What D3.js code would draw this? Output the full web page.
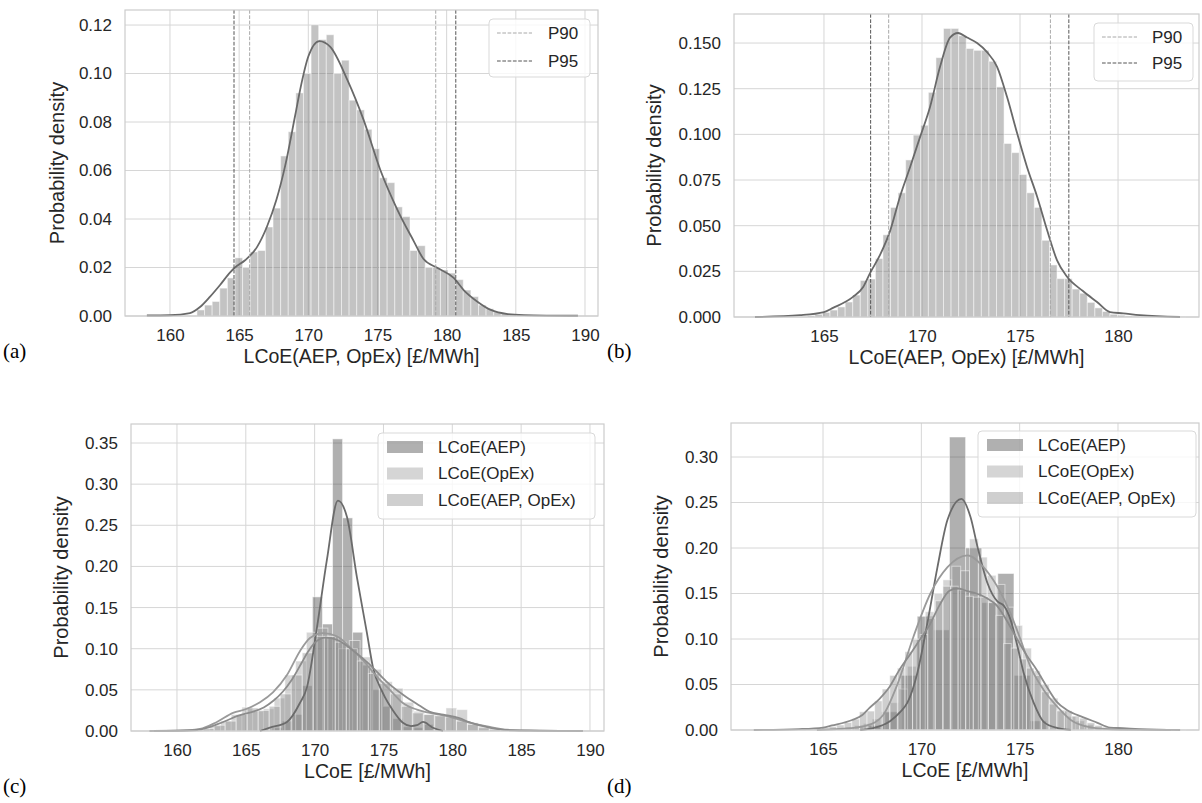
<!DOCTYPE html>
<html>
<head>
<meta charset="utf-8">
<script src="https://cdn.jsdelivr.net/npm/d3@7"></script>
<style>
  body { margin: 0; background: #fff; }
  svg { display: block; font-family: "Liberation Sans", Arial, sans-serif; }
</style>
</head>
<body>
<div id="chart"></div>
<script>
// ---- tick values ----
var xTicksWide = [160, 165, 170, 175, 180, 185, 190];
var xTicksNarrow = [165, 170, 175, 180];
var yTicksA = [0, 0.02, 0.04, 0.06, 0.08, 0.10, 0.12];
var yTicksB = [0, 0.025, 0.05, 0.075, 0.10, 0.125, 0.15];
var yTicksC = [0, 0.05, 0.10, 0.15, 0.20, 0.25, 0.30, 0.35];
var yTicksD = [0, 0.05, 0.10, 0.15, 0.20, 0.25, 0.30];

// ---- LCoE(AEP, OpEx), wide sample (panels a and c) ----
var histA_start = 161.95, histA_width = 0.55;
var histA_density = [0.0025, 0.0045, 0.006, 0.0115, 0.0157, 0.024, 0.020, 0.0264, 0.027, 0.0367,
  0.0445, 0.066, 0.076, 0.092, 0.100, 0.120, 0.114, 0.116, 0.100, 0.1055,
  0.089, 0.085, 0.077, 0.069, 0.057, 0.055, 0.045, 0.041, 0.027, 0.029,
  0.020, 0.020, 0.019, 0.0177, 0.015, 0.0107, 0.008, 0.0045, 0.003, 0.0017,
  0.001, 0.0006, 0.0005, 0.0004, 0.0004, 0.0003, 0.0002, 0.0002, 0.0002, 0.0001];
var kdeA = [[158.33, 0.0002], [160.0, 0.0003], [161.45, 0.0012], [162.17, 0.0037], [162.9, 0.008],
  [163.62, 0.0128], [164.35, 0.018], [164.7, 0.020], [165.43, 0.023], [166.3, 0.0285],
  [167.0, 0.0367], [167.7, 0.048], [168.33, 0.062], [169.06, 0.083], [169.45, 0.0944],
  [170.0, 0.107], [170.8, 0.1134], [171.59, 0.111], [172.83, 0.0973], [173.99, 0.081],
  [175.22, 0.060], [176.45, 0.0437], [177.61, 0.031], [178.33, 0.0235], [179.35, 0.0198],
  [180.51, 0.0157], [181.23, 0.0107], [182.25, 0.0058], [183.19, 0.0025], [184.42, 0.0008],
  [185.58, 0.0004], [189.49, 0.0001]];
var p90A = [165.76, 179.21];
var p95A = [164.63, 180.66];

// ---- LCoE(AEP, OpEx), narrow sample (panels b and d) ----
var histB_start = 164.15, histB_width = 0.386;
var histB_density = [0.0008, 0.0015, 0.0025, 0.0038, 0.0055, 0.0082, 0.012, 0.020, 0.0208, 0.032,
  0.045, 0.060, 0.068, 0.086, 0.0996, 0.105, 0.123, 0.142, 0.158, 0.158,
  0.154, 0.147, 0.146, 0.146, 0.140, 0.126, 0.095, 0.090, 0.078, 0.068,
  0.060, 0.042, 0.0285, 0.021, 0.021, 0.0153, 0.013, 0.008, 0.005, 0.003,
  0.0015, 0.001, 0.0006, 0.0004, 0.0003, 0.0002, 0.0002, 0.0001, 0.0001, 0.0001];
var kdeB = [[161.48, 0], [163.78, 0.001], [165.0, 0.0027], [165.46, 0.005], [166.48, 0.011],
  [167.0, 0.0164], [167.35, 0.024], [167.86, 0.034], [168.37, 0.047], [168.88, 0.066],
  [169.39, 0.082], [169.9, 0.0985], [170.41, 0.115], [170.92, 0.137], [171.43, 0.153],
  [171.84, 0.1555], [172.3, 0.153], [172.81, 0.150], [173.32, 0.145], [173.83, 0.137],
  [174.34, 0.1204], [174.85, 0.1007], [175.36, 0.082], [175.87, 0.066], [176.38, 0.0476],
  [176.89, 0.031], [177.4, 0.022], [178.21, 0.0142], [178.93, 0.0082], [179.59, 0.0027],
  [180.26, 0.002], [181.12, 0.001], [183.16, 0]];
var p90B = [168.30, 176.55];
var p95B = [167.38, 177.49];

// ---- panel c: LCoE(AEP) and LCoE(OpEx) ----
var histC_aep_start = 166.92, histC_aep_width = 0.73;
var histC_aep = [0.004, 0.012, 0.02, 0.055, 0.163, 0.13, 0.355, 0.259, 0.12, 0.08,
  0.05, 0.03, 0.015, 0.005, 0.004, 0.008];
var kdeC_aep = [[166.03, 0.0], [166.75, 0.004], [167.99, 0.011], [168.93, 0.034], [169.44, 0.053],
  [170.17, 0.126], [170.89, 0.208], [171.69, 0.28], [172.35, 0.26], [173.07, 0.187],
  [173.8, 0.119], [174.23, 0.078], [174.96, 0.046], [175.69, 0.025], [176.41, 0.010],
  [177.0, 0.006], [177.43, 0.007], [177.87, 0.011], [178.59, 0.004], [179.32, 0]];
var histC_opex_start = 161.6, histC_opex_width = 0.78;
var histC_opex = [0.002, 0.006, 0.012, 0.02, 0.029, 0.024, 0.027, 0.04, 0.068, 0.085,
  0.12, 0.125, 0.115, 0.10, 0.11, 0.09, 0.075, 0.06, 0.052, 0.035,
  0.024, 0.02, 0.018, 0.028, 0.026, 0.01, 0.006, 0.004, 0.002, 0.001, 0.0005];
var kdeC_opex = [[158.0, 0], [160.0, 0.0004], [161.67, 0.0025], [162.9, 0.011], [164.07, 0.022],
  [165.08, 0.027], [166.03, 0.035], [166.97, 0.047], [167.99, 0.068], [168.93, 0.097],
  [169.66, 0.113], [170.6, 0.119], [171.62, 0.115], [172.56, 0.102], [173.51, 0.086],
  [174.52, 0.066], [175.47, 0.05], [176.41, 0.034], [177.43, 0.026], [178.37, 0.022],
  [179.61, 0.018], [181.06, 0.011], [182.73, 0.005], [183.97, 0.0015], [189.48, 0]];
var histC_comb_start = 161.9, histC_comb_width = 0.8;
var histC_comb = [0.003, 0.007, 0.012, 0.02, 0.028, 0.025, 0.03, 0.045, 0.068, 0.095,
  0.115, 0.115, 0.108, 0.1, 0.085, 0.07, 0.058, 0.045, 0.03, 0.022,
  0.02, 0.019, 0.017, 0.012, 0.008, 0.004, 0.002, 0.001];

// ---- panel d: LCoE(AEP) and LCoE(OpEx) ----
var histD_aep_start = 167.33, histD_aep_width = 0.82;
var histD_aep = [0.005, 0.02, 0.06, 0.125, 0.11, 0.322, 0.2, 0.14, 0.172, 0.06, 0.01];
var kdeD_aep = [[166.89, 0], [167.55, 0.002], [168.42, 0.01], [168.93, 0.02], [169.29, 0.03],
  [169.8, 0.063], [170.31, 0.118], [170.82, 0.179], [171.33, 0.231], [172.04, 0.254],
  [172.5, 0.234], [172.86, 0.201], [173.37, 0.161], [173.88, 0.141], [174.18, 0.137],
  [174.54, 0.121], [174.9, 0.091], [175.2, 0.063], [175.71, 0.030], [176.22, 0.009],
  [176.94, 0.002], [177.6, 0]];
var histD_opex_start = 164.8, histD_opex_width = 0.45;
var histD_opex = [0.001, 0.002, 0.002, 0.003, 0.005, 0.007, 0.012, 0.02, 0.03, 0.045,
  0.07, 0.1, 0.13, 0.15, 0.165, 0.18, 0.175, 0.21, 0.19, 0.17,
  0.16, 0.135, 0.115, 0.09, 0.065, 0.05, 0.035, 0.022, 0.015, 0.01,
  0.006, 0.003, 0.002, 0.001];
var kdeD_opex = [[164.69, 0], [166.38, 0.002], [167.24, 0.005], [168.06, 0.0165], [168.78, 0.05],
  [169.59, 0.102], [170.46, 0.150], [171.33, 0.179], [172.35, 0.192], [173.16, 0.179],
  [173.88, 0.157], [174.54, 0.128], [175.05, 0.099], [175.56, 0.069], [176.22, 0.044],
  [176.94, 0.025], [177.6, 0.011], [178.62, 0.003], [180.05, 0.0005], [182.7, 0]];

var seriesNames = ["LCoE(AEP)", "LCoE(OpEx)", "LCoE(AEP, OpEx)"];

// ---- drawing ----
var svg = d3.select("#chart").append("svg")
    .attr("width", 1202)
    .attr("height", 803);

var gridColor = "#d6d6d6";
var textColor = "#262626";

function histBars(start, width, dens) {
    return dens.map(function (d, i) {
        return { x0: start + i * width, x1: start + (i + 1) * width, y: d };
    });
}

function drawPanel(p) {
    var x = d3.scaleLinear().domain(p.xDomain).range([p.left, p.right]);
    var y = d3.scaleLinear().domain([0, p.yMax]).range([p.bottom, p.top]);
    var g = svg.append("g");

    // gridlines
    g.selectAll(".vgrid").data(p.xTicks).enter().append("line")
        .attr("x1", d => x(d)).attr("x2", d => x(d))
        .attr("y1", p.top).attr("y2", p.bottom)
        .attr("stroke", gridColor).attr("stroke-width", 1);
    g.selectAll(".hgrid").data(p.yTicks).enter().append("line")
        .attr("x1", p.left).attr("x2", p.right)
        .attr("y1", d => y(d)).attr("y2", d => y(d))
        .attr("stroke", gridColor).attr("stroke-width", 1);

    // histograms
    p.hists.forEach(function (h) {
        g.append("g").selectAll("rect").data(histBars(h.start, h.width, h.dens)).enter()
            .append("rect")
            .attr("x", d => x(d.x0))
            .attr("width", d => x(d.x1) - x(d.x0))
            .attr("y", d => y(d.y))
            .attr("height", d => p.bottom - y(d.y))
            .attr("fill", h.color)
            .attr("fill-opacity", 0.4)
            .attr("stroke", "#fff")
            .attr("stroke-opacity", 0.5)
            .attr("stroke-width", 1);
    });

    // KDE lines
    var line = d3.line()
        .x(d => x(d[0]))
        .y(d => y(d[1]))
        .curve(d3.curveMonotoneX);
    p.kdes.forEach(function (k) {
        g.append("path")
            .datum(k.data)
            .attr("fill", "none")
            .attr("stroke", k.color)
            .attr("stroke-width", 1.8)
            .attr("d", line);
    });

    // percentile lines
    (p.vlines || []).forEach(function (v) {
        v.values.forEach(function (val) {
            g.append("line")
                .attr("x1", x(val)).attr("x2", x(val))
                .attr("y1", p.top).attr("y2", p.bottom)
                .attr("stroke", v.color)
                .attr("stroke-width", 1)
                .attr("stroke-dasharray", "3.7,1.6");
        });
    });

    // frame
    g.append("rect")
        .attr("x", p.left).attr("y", p.top)
        .attr("width", p.right - p.left).attr("height", p.bottom - p.top)
        .attr("fill", "none").attr("stroke", "#cccccc").attr("stroke-width", 1.2);

    // axes labels
    var xAxis = g.append("g")
        .attr("transform", `translate(0, ${p.bottom})`)
        .call(d3.axisBottom(x).tickValues(p.xTicks).tickSize(0).tickPadding(13).tickFormat(d3.format("d")));
    var yAxis = g.append("g")
        .attr("transform", `translate(${p.left}, 0)`)
        .call(d3.axisLeft(y).tickValues(p.yTicks).tickSize(0).tickPadding(13).tickFormat(d3.format(p.yFormat)));
    [xAxis, yAxis].forEach(function (a) {
        a.select(".domain").remove();
        a.selectAll("text")
            .attr("fill", textColor)
            .style("font-size", "17px")
            .style("font-family", "'Liberation Sans', Arial, sans-serif");
    });

    g.append("text")
        .attr("x", (p.left + p.right) / 2)
        .attr("y", p.bottom + 47)
        .attr("text-anchor", "middle")
        .attr("fill", textColor)
        .style("font-size", "19.5px")
        .text(p.xLabel);

    g.append("text")
        .attr("transform", `translate(${p.left - p.yLabelOffset}, ${(p.top + p.bottom) / 2}) rotate(-90)`)
        .attr("text-anchor", "middle")
        .attr("fill", textColor)
        .style("font-size", "20px")
        .text("Probability density");

    // panel tag
    g.append("text")
        .attr("x", p.tag.x).attr("y", p.tag.y)
        .attr("fill", "#000")
        .style("font-family", "'Liberation Serif', 'Times New Roman', serif")
        .style("font-size", "21px")
        .text(p.tag.text);

    // legend
    var lg = p.legend;
    var leg = g.append("g");
    leg.append("rect")
        .attr("x", lg.x).attr("y", lg.y)
        .attr("width", lg.w).attr("height", lg.h)
        .attr("rx", 4)
        .attr("fill", "#fff").attr("fill-opacity", 0.8)
        .attr("stroke", "#d9d9d9").attr("stroke-width", 1);
    lg.items.forEach(function (it, i) {
        var cy = lg.y + lg.first + i * lg.step;
        if (it.type === "line") {
            leg.append("line")
                .attr("x1", lg.x + 8).attr("x2", lg.x + 43)
                .attr("y1", cy).attr("y2", cy)
                .attr("stroke", it.color).attr("stroke-width", 1)
                .attr("stroke-dasharray", "3.7,1.6");
        } else {
            leg.append("rect")
                .attr("x", lg.x + 9).attr("y", cy - 6)
                .attr("width", 36).attr("height", 12)
                .attr("fill", it.color).attr("fill-opacity", 0.4);
        }
        leg.append("text")
            .attr("x", lg.x + lg.textOffset).attr("y", cy)
            .attr("dominant-baseline", "central")
            .attr("fill", textColor)
            .style("font-size", "17px")
            .text(it.label);
    });
}

var colSingle = "#696969";
var colAep = "#3a3a3a", colOpex = "#959595", colComb = "#888888";
var lineAep = "#6b6b6b", lineOpex = "#9a9a9a", lineComb = "#8c8c8c";
var colP90 = "#a8a8a8", colP95 = "#555555";

// (a)
drawPanel({
    left: 125, right: 598, top: 10, bottom: 316,
    xDomain: [156.75, 190.94], yMax: 0.1262,
    xTicks: xTicksWide, yTicks: yTicksA, yFormat: ".2f",
    hists: [{ start: histA_start, width: histA_width, dens: histA_density, color: colSingle }],
    kdes: [{ data: kdeA, color: colSingle }],
    vlines: [{ values: p90A, color: colP90 }, { values: p95A, color: colP95 }],
    xLabel: "LCoE(AEP, OpEx) [£/MWh]", yLabelOffset: 61,
    tag: { text: "(a)", x: 3, y: 358 },
    legend: { x: 489, y: 19, w: 101, h: 58, first: 14, step: 28, textOffset: 59,
        items: [{ type: "line", color: colP90, label: "P90" }, { type: "line", color: colP95, label: "P95" }] }
});

// (b)
drawPanel({
    left: 734, right: 1199, top: 14, bottom: 317,
    xDomain: [160.41, 184.13], yMax: 0.1659,
    xTicks: xTicksNarrow, yTicks: yTicksB, yFormat: ".3f",
    hists: [{ start: histB_start, width: histB_width, dens: histB_density, color: colSingle }],
    kdes: [{ data: kdeB, color: colSingle }],
    vlines: [{ values: p90B, color: colP90 }, { values: p95B, color: colP95 }],
    xLabel: "LCoE(AEP, OpEx) [£/MWh]", yLabelOffset: 73,
    tag: { text: "(b)", x: 607, y: 358 },
    legend: { x: 1094, y: 23, w: 99, h: 58, first: 14, step: 26, textOffset: 58,
        items: [{ type: "line", color: colP90, label: "P90" }, { type: "line", color: colP95, label: "P95" }] }
});

// (c)
drawPanel({
    left: 131, right: 604, top: 424, bottom: 731,
    xDomain: [156.66, 191.02], yMax: 0.3731,
    xTicks: xTicksWide, yTicks: yTicksC, yFormat: ".2f",
    hists: [
        { start: histC_aep_start, width: histC_aep_width, dens: histC_aep, color: colAep },
        { start: histC_opex_start, width: histC_opex_width, dens: histC_opex, color: colOpex },
        { start: histC_comb_start, width: histC_comb_width, dens: histC_comb, color: colComb }
    ],
    kdes: [
        { data: kdeC_aep, color: lineAep },
        { data: kdeC_opex, color: lineOpex },
        { data: kdeA, color: lineComb }
    ],
    xLabel: "LCoE [£/MWh]", yLabelOffset: 63.5,
    tag: { text: "(c)", x: 3, y: 793 },
    legend: { x: 378, y: 433, w: 217, h: 86, first: 14, step: 26.5, textOffset: 60,
        items: [{ type: "patch", color: colAep, label: seriesNames[0] },
                { type: "patch", color: colOpex, label: seriesNames[1] },
                { type: "patch", color: colComb, label: seriesNames[2] }] }
});

// (d)
drawPanel({
    left: 731, right: 1199, top: 423, bottom: 730,
    xDomain: [160.32, 184.12], yMax: 0.3374,
    xTicks: xTicksNarrow, yTicks: yTicksD, yFormat: ".2f",
    hists: [
        { start: histD_aep_start, width: histD_aep_width, dens: histD_aep, color: colAep },
        { start: histD_opex_start, width: histD_opex_width, dens: histD_opex, color: colOpex },
        { start: histB_start, width: histB_width, dens: histB_density, color: colComb }
    ],
    kdes: [
        { data: kdeD_aep, color: lineAep },
        { data: kdeD_opex, color: lineOpex },
        { data: kdeB, color: lineComb }
    ],
    xLabel: "LCoE [£/MWh]", yLabelOffset: 63.5,
    tag: { text: "(d)", x: 607, y: 793 },
    legend: { x: 978, y: 431, w: 218, h: 86, first: 14, step: 26.5, textOffset: 60,
        items: [{ type: "patch", color: colAep, label: seriesNames[0] },
                { type: "patch", color: colOpex, label: seriesNames[1] },
                { type: "patch", color: colComb, label: seriesNames[2] }] }
});
</script>
</body>
</html>
